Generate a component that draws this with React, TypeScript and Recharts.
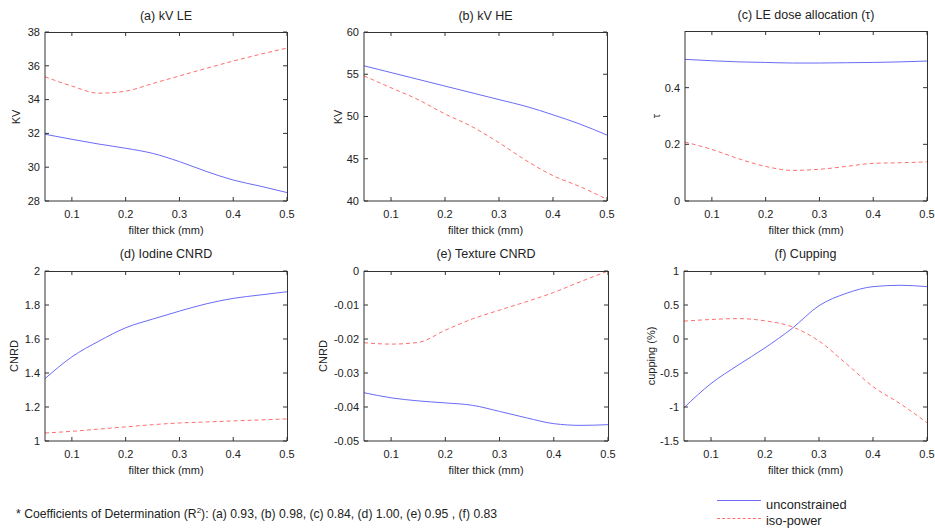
import React from "react";
import { LineChart, Line, XAxis, YAxis } from "recharts";

// filter thickness (mm) sample points, shared by all panels
const filterThick = [0.05, 0.1, 0.15, 0.2, 0.25, 0.3, 0.35, 0.4, 0.45, 0.5];
const xTicks = [0.1, 0.2, 0.3, 0.4, 0.5];

// (a) kV LE
const kvLeUnc = [31.95, 31.65, 31.37, 31.12, 30.82, 30.33, 29.75, 29.24, 28.88, 28.5];
const kvLeIso = [35.35, 34.8, 34.38, 34.5, 34.95, 35.4, 35.85, 36.28, 36.68, 37.05];
const kvLeTicks = [28, 30, 32, 34, 36, 38];

// (b) kV HE
const kvHeUnc = [56.0, 55.2, 54.4, 53.6, 52.8, 52.0, 51.2, 50.2, 49.1, 47.8];
const kvHeIso = [54.8, 53.4, 52.0, 50.3, 48.8, 46.9, 44.8, 43.0, 41.7, 40.2];
const kvHeTicks = [40, 45, 50, 55, 60];

// (c) LE dose allocation
const tauUnc = [0.5, 0.495, 0.491, 0.489, 0.487, 0.487, 0.488, 0.489, 0.491, 0.494];
const tauIso = [0.208, 0.182, 0.149, 0.122, 0.108, 0.112, 0.122, 0.133, 0.135, 0.138];
const tauTicks = [0, 0.2, 0.4];

// (d) Iodine CNRD
const iodUnc = [1.367, 1.495, 1.587, 1.666, 1.717, 1.764, 1.807, 1.839, 1.859, 1.878];
const iodIso = [1.047, 1.057, 1.07, 1.083, 1.096, 1.106, 1.112, 1.118, 1.124, 1.13];
const iodTicks = [1, 1.2, 1.4, 1.6, 1.8, 2];

// (e) Texture CNRD
const texUnc = [-0.0358, -0.0373, -0.0382, -0.0388, -0.0395, -0.0413, -0.0432, -0.0449, -0.0454, -0.0452];
const texIso = [-0.0211, -0.0215, -0.021, -0.0174, -0.0141, -0.0115, -0.009, -0.0063, -0.0031, 0];
const texTicks = [-0.05, -0.04, -0.03, -0.02, -0.01, 0];

// (f) Cupping
const cupUnc = [-1.01, -0.655, -0.385, -0.13, 0.155, 0.49, 0.67, 0.77, 0.79, 0.77];
const cupIso = [0.263, 0.287, 0.3, 0.267, 0.18, -0.03, -0.36, -0.7, -0.95, -1.23];
const cupTicks = [-1.5, -1, -0.5, 0, 0.5, 1];

const BLUE = "#6b6bf7";
const RED = "#ff6f6f";
const AXIS = "#333333";
const FONT = "'Liberation Sans', Arial, sans-serif";
const TICK_LEN = 4;

const panels = [
  { title: "(a) kV LE", yLabel: "KV", yLabelX: 16, box: [45, 32, 287, 201], domain: [28, 38], ticks: kvLeTicks, unc: kvLeUnc, iso: kvLeIso },
  { title: "(b) kV HE", yLabel: "KV", yLabelX: 338, box: [364, 32, 607, 201], domain: [40, 60], ticks: kvHeTicks, unc: kvHeUnc, iso: kvHeIso },
  { title: "(c) LE dose allocation (\u03c4)", yLabel: "\u03c4", yLabelX: 656, box: [685, 31, 927, 201], domain: [0, 0.6], ticks: tauTicks, unc: tauUnc, iso: tauIso },
  { title: "(d) Iodine CNRD", yLabel: "CNRD", yLabelX: 14, box: [45, 271, 287, 441], domain: [1, 2], ticks: iodTicks, unc: iodUnc, iso: iodIso },
  { title: "(e) Texture CNRD", yLabel: "CNRD", yLabelX: 323, box: [364, 271, 608, 441], domain: [-0.05, 0], ticks: texTicks, unc: texUnc, iso: texIso },
  { title: "(f) Cupping", yLabel: "cupping (%)", yLabelX: 651, box: [684, 271, 927, 441], domain: [-1.5, 1], ticks: cupTicks, unc: cupUnc, iso: cupIso },
];

// inward-pointing tick marks, MATLAB style, mirrored on the opposite side of the box
const makeLeftTick = (plotW: number) => (props: any) => {
  const { x, y, payload } = props;
  return (
    <g>
      <path d={`M${x},${y}h${TICK_LEN}M${x + plotW},${y}h${-TICK_LEN}`} stroke={AXIS} strokeWidth={1} fill="none" />
      <text x={x - 5} y={y} dy="0.35em" textAnchor="end" fontSize={11} fill="#222" fontFamily={FONT}>
        {String(payload.value)}
      </text>
    </g>
  );
};
const makeBottomTick = (plotH: number) => (props: any) => {
  const { x, y, payload } = props;
  return (
    <g>
      <path d={`M${x},${y}v${-TICK_LEN}M${x},${y - plotH}v${TICK_LEN}`} stroke={AXIS} strokeWidth={1} fill="none" />
      <text x={x} y={y + 13} dy="0.35em" textAnchor="middle" fontSize={11} fill="#222" fontFamily={FONT}>
        {String(payload.value)}
      </text>
    </g>
  );
};

function Txt({ x, y, size = 11, rotate = false, children }: any) {
  return (
    <div
      style={{
        position: "absolute",
        left: x,
        top: y,
        transform: `translate(-50%, -50%)${rotate ? " rotate(-90deg)" : ""}`,
        whiteSpace: "nowrap",
        fontSize: size,
        fontFamily: FONT,
        color: "#222",
        lineHeight: 1,
      }}
    >
      {children}
    </div>
  );
}

function Panel({ p }: any) {
  const [pl, pt, pr, pb] = p.box;
  const padL = 50, padT = 10, padR = 10, padB = 30;
  const data = filterThick.map((x, i) => ({ x, unc: p.unc[i], iso: p.iso[i] }));
  return (
    <>
      <div style={{ position: "absolute", left: pl - padL, top: pt - padT }}>
        <LineChart
          width={pr - pl + padL + padR}
          height={pb - pt + padT + padB}
          data={data}
          margin={{ top: padT, right: padR, bottom: 0, left: 0 }}
        >
          <XAxis
            dataKey="x"
            type="number"
            domain={[0.05, 0.5]}
            ticks={xTicks}
            allowDataOverflow
            height={padB}
            tickSize={0}
            tickMargin={0}
            tick={makeBottomTick(pb - pt)}
            axisLine={{ stroke: AXIS }}
          />
          <YAxis
            type="number"
            domain={p.domain}
            ticks={p.ticks}
            allowDataOverflow
            width={padL}
            tickSize={0}
            tickMargin={0}
            tick={makeLeftTick(pr - pl)}
            axisLine={{ stroke: AXIS }}
          />
          <Line dataKey="unc" type="monotone" stroke={BLUE} strokeWidth={1} dot={false} isAnimationActive={false} />
          <Line dataKey="iso" type="monotone" stroke={RED} strokeWidth={1} strokeDasharray="4 3" dot={false} isAnimationActive={false} />
        </LineChart>
      </div>
      {/* axes box (top and right edges) */}
      <div
        style={{
          position: "absolute",
          left: pl,
          top: pt - 0.5,
          width: pr - pl + 0.5,
          height: pb - pt,
          borderTop: `1px solid ${AXIS}`,
          borderRight: `1px solid ${AXIS}`,
          boxSizing: "border-box",
          pointerEvents: "none",
        }}
      />
      <Txt x={(pl + pr) / 2} y={pt - 16 + (pt > 100 ? -1 : 0)} size={12.5}>{p.title}</Txt>
      <Txt x={(pl + pr) / 2} y={pb + 29}>filter thick (mm)</Txt>
      <Txt x={p.yLabelX} y={(pt + pb) / 2} rotate>{p.yLabel}</Txt>
    </>
  );
}

const legendText = { position: "absolute", fontSize: 13.5, fontFamily: FONT, color: "#222", whiteSpace: "nowrap", lineHeight: "16px" } as any;

export default function App() {
  return (
    <div
      style={{
        position: "absolute",
        left: 0,
        top: 0,
        width: 935,
        height: 531,
        background: "#fff",
        overflow: "hidden",
      }}
    >
      {panels.map((p) => (
        <Panel key={p.title} p={p} />
      ))}
      <div style={{ ...legendText, left: 16, top: 506, fontSize: 12.2 }}>
        * Coefficients of Determination (R<sup style={{ fontSize: 8, lineHeight: 0 }}>2</sup>): (a) 0.93, (b) 0.98, (c) 0.84, (d) 1.00, (e) 0.95 , (f) 0.83
      </div>
      <div style={{ position: "absolute", left: 717, top: 500, width: 44, borderTop: `1px solid ${BLUE}` }} />
      <div style={{ ...legendText, left: 766, top: 497, transform: "scaleX(0.95)", transformOrigin: "left" }}>unconstrained</div>
      <div style={{ position: "absolute", left: 717, top: 518, width: 44, borderTop: `1px dashed ${RED}` }} />
      <div style={{ ...legendText, left: 766, top: 513, transform: "scaleX(0.95)", transformOrigin: "left" }}>iso-power</div>
    </div>
  );
}
